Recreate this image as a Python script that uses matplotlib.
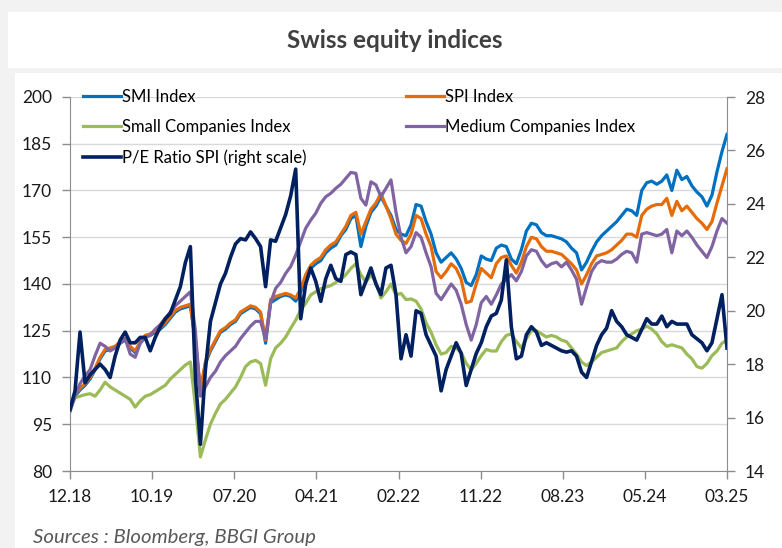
import matplotlib
matplotlib.use("Agg")
import matplotlib.pyplot as plt
from matplotlib.patches import Rectangle
import pandas as pd

# --- data (~17-day steps) ---
START, END = "2018-12-27", "2025-03-10"
TICK_LABELS = ["12.18", "10.19", "07.20", "04.21", "02.22", "11.22", "08.23", "05.24", "03.25"]

smi = [100, 104, 106, 107.5, 109.5, 112.5, 116, 118.5, 119, 119.5,
       121, 122, 119.5, 118, 121, 123, 123.5, 124.5, 125.5, 127,
       129, 131, 132, 132.5, 133, 121.5, 105, 114.5, 118.5, 121.5,
       124.5, 125.5, 127, 128, 130.5, 131.5, 132.5, 132, 130.5, 121,
       134, 135, 136, 136.5, 136, 134.5, 137.5, 142, 145, 146.5,
       147.5, 150, 151.5, 152.5, 155.5, 157.5, 161, 162, 152, 158.5,
       163, 165, 168, 165, 162, 157.5, 156, 155.5, 159, 165.5,
       165, 160, 156, 150, 147, 148.5, 150, 148, 145, 140.5,
       139.5, 143, 149, 148, 147.5, 151.5, 152.5, 152, 148, 146.5,
       151, 157, 159.5, 159, 156.5, 155.5, 155.5, 155, 154.5, 153.5,
       151.5, 150, 144.5, 147, 150.5, 153.5, 155.5, 157, 158.5, 160,
       162, 164, 163.5, 162, 170, 172.5, 173, 172, 173, 175,
       170, 176.5, 173.5, 174.5, 171.5, 169.5, 168, 165, 168.5, 176,
       182.5, 188]
spi = [100, 104.5, 106.5, 108, 110, 113, 116.5, 119, 119.5, 120,
       121.5, 122.5, 120, 118.5, 121.5, 123.5, 124, 125, 126, 127.5,
       129.5, 131.5, 132.5, 133, 133.5, 122, 106, 115, 119, 122,
       125, 126, 127.5, 128.5, 131, 132, 133, 132.5, 131, 122,
       135, 136, 136.5, 137, 136.5, 135.5, 138.5, 143, 146, 147.5,
       148.5, 151, 152.5, 153.5, 156, 158.5, 162, 163, 156, 160,
       164, 166, 169, 165, 161, 156, 154, 153, 156, 162,
       161, 156, 152, 144, 142, 144, 146.5, 145, 141.5, 134,
       134.5, 140, 145, 143.5, 142, 146.5, 148.5, 149, 146, 143.5,
       147, 152, 155, 154.5, 152, 150.5, 150.5, 150, 149.5, 148,
       146.5, 144.5, 140, 143, 146.5, 149, 149.5, 150, 151, 152.5,
       154, 156, 156, 155, 162, 164, 165, 165.5, 165.5, 167.5,
       162, 166.5, 163.5, 165, 163, 161, 159.5, 157.5, 160, 166,
       171.5, 177]
small = [100, 103.5, 104, 104.5, 104.8, 104, 106, 108.5, 107, 106,
         105, 104, 103, 100.5, 102.5, 104, 104.5, 105.5, 106.5, 107.5,
         109.5, 111, 112.5, 114, 115, 101, 84.5, 90, 95, 98.5,
         101.5, 103, 105, 107, 110, 113.5, 115, 115.5, 114.5, 107.5,
         116, 119.5, 121, 123, 125.8, 128.4, 131.7, 133.8, 136.5, 137.5,
         138.5, 139, 139.5, 140.5, 141.5, 143, 145, 146.5, 143, 140.5,
         143, 140.5, 135.5, 137.5, 140, 136.5, 137, 135, 135.2, 134.5,
         132, 127.5, 124.5, 120.5, 117.5, 118, 120, 119.5, 118, 114.5,
         112.5, 114.5, 117, 119, 118.5, 118.5, 121.5, 123.5, 124, 121.5,
         119.5, 122.5, 125, 125, 124, 123, 123.5, 123, 122, 121.5,
         119.5, 117.5, 115, 113.8, 115, 116.5, 118, 118.5, 119, 119.5,
         121.5, 123, 124, 125, 125.5, 126.5, 125.5, 124, 121.5, 120,
         120.5, 120, 119.5, 117.5, 116, 113.5, 113, 114.5, 117, 118.5,
         121, 122]
medium = [99, 104, 108, 110.5, 112.5, 117, 121, 120, 118.5, 119.5,
          121, 122.5, 117.5, 116.5, 121, 123, 123.5, 125.5, 127, 129,
          131, 133, 134.5, 136, 137.5, 125, 104, 107, 110, 112,
          115, 117, 118.5, 120, 122.5, 124.5, 126.5, 128, 128, 122.5,
          134, 138.6, 140.5, 143.4, 145.6, 149.3, 153.6, 157.9, 160.5, 162.7,
          165.9, 168, 169.1, 170.7, 172, 173.9, 175.8, 175.5, 167.5, 165.3,
          172.8, 171.8, 168, 170.7, 173.4, 163, 155, 150, 152, 156.5,
          155, 150, 145.5, 137, 135, 137.5, 140, 138, 133.5, 127,
          122, 127, 134, 136, 133.5, 136.5, 140, 141.5, 143, 141,
          144, 149, 151, 150.5, 147.5, 145.5, 146.5, 147, 145.5, 147,
          144.5, 141.5, 133.5, 139, 144, 146.5, 147.5, 147, 147, 148,
          149.5, 150.5, 150, 147, 156, 156.5, 156, 155.5, 156, 157.5,
          150, 157, 155.5, 157, 155, 152.5, 150.5, 148.5, 152, 157,
          161, 159.5]
pe_spi = [16.3, 17.0, 19.2, 17.3, 17.6, 17.8, 18.0, 17.8, 17.5, 18.3,
          18.9, 19.2, 18.8, 18.8, 19.0, 19.0, 18.5, 19.0, 19.4, 19.7,
          19.9, 20.4, 20.9, 21.8, 22.4, 17.5, 15.0, 17.8, 19.6, 20.3,
          21.0, 21.4, 22.0, 22.5, 22.7, 22.65, 22.95, 22.7, 22.4, 20.9,
          22.65, 22.6, 23.1, 23.6, 24.3, 25.3, 19.7, 21.0, 21.6, 21.1,
          20.35, 21.2, 21.7, 21.2, 21.1, 22.1, 22.2, 22.1, 20.6, 21.1,
          21.6, 21.0, 20.6, 21.6, 21.7, 20.6, 18.2, 19.1, 18.3, 20.0,
          19.9, 19.1, 18.7, 18.3, 17.0, 17.8, 18.3, 18.8, 18.4, 17.2,
          17.8, 18.4, 18.8, 19.4, 19.8, 19.9, 20.4, 21.9, 19.4, 18.2,
          18.3, 19.1, 19.4, 19.2, 18.7, 18.8, 18.7, 18.6, 18.5, 18.45,
          18.5, 18.3, 17.7, 17.5, 18.1, 18.7, 19.1, 19.35, 20.0, 19.6,
          19.4, 19.1, 19.0, 18.9, 19.3, 19.7, 19.5, 19.5, 19.8, 19.4,
          19.6, 19.5, 19.5, 19.5, 19.1, 18.95, 18.8, 18.5, 18.8, 19.7,
          20.6, 18.6]

dates = pd.date_range(START, END, periods=len(spi))
tick_dates = pd.date_range(START, END, periods=len(TICK_LABELS))

FONT = "Lato"
W, H = 782, 548
plt.rcParams["font.family"] = [FONT, "DejaVu Sans"]

fig = plt.figure(figsize=(W / 100, H / 100), dpi=100, facecolor="#f2f2f2")
# white cards behind the title and the chart
fig.patches.append(Rectangle((8 / W, 1 - 68 / H), 1, 56 / H, transform=fig.transFigure,
                             facecolor="white", edgecolor="none", zorder=-10))
fig.patches.append(Rectangle((15 / W, 0), 1, 1 - 73 / H, transform=fig.transFigure,
                             facecolor="white", edgecolor="none", zorder=-10))

ax = fig.add_axes([70 / W, 1 - 471 / H, 657 / W, 374 / H])
ax.set_facecolor("none")
ax2 = ax.twinx()

ax.plot(dates, smi, color="#0070c0", lw=2.3, label="SMI Index")
ax.plot(dates, spi, color="#e46c0a", lw=2.3, label="SPI Index")
ax.plot(dates, small, color="#9bbb59", lw=2.3, label="Small Companies Index")
ax.plot(dates, medium, color="#8064a2", lw=2.3, label="Medium Companies Index")
ax2.plot(dates, pe_spi, color="#002060", lw=2.6, label="P/E Ratio SPI (right scale)")

ax.set_xlim(dates[0], dates[-1])
ax.set_ylim(80, 200)
ax.set_yticks(range(80, 201, 15))
ax2.set_ylim(14, 28)
ax2.set_yticks(range(14, 29, 2))
ax.set_xticks(tick_dates)
ax.set_xticklabels(TICK_LABELS)

ax.grid(axis="y", color="#d9d9d9", lw=1)
ax.set_axisbelow(True)
for a in (ax, ax2):
    a.spines["top"].set_visible(False)
    for s in ("left", "right", "bottom"):
        a.spines[s].set_color("#8c8c8c")
ax.spines["right"].set_visible(False)
ax2.spines["left"].set_visible(False)
ax2.spines["bottom"].set_visible(False)
ax.tick_params(axis="both", colors="#8c8c8c", labelcolor="#1a1a1a", labelsize=12.5,
               length=6, width=1, pad=7)
ax2.tick_params(axis="y", colors="#8c8c8c", labelcolor="#1a1a1a", labelsize=12.5,
                length=6, width=1, pad=7)

# legend: two columns like the Excel original
h = {l.get_label(): l for l in ax.get_lines() + ax2.get_lines()}
col1 = ["SMI Index", "Small Companies Index", "P/E Ratio SPI (right scale)"]
col2 = ["SPI Index", "Medium Companies Index"]
kw = dict(frameon=False, fontsize=12, handlelength=2.3, handletextpad=0.05,
          labelspacing=0.86, borderpad=0, borderaxespad=0, loc="upper left",
          bbox_transform=fig.transFigure)
leg1 = ax2.legend([h[k] for k in col1], col1, bbox_to_anchor=(83 / W, 1 - 89 / H), **kw)
ax2.add_artist(leg1)
ax2.legend([h[k] for k in col2], col2, bbox_to_anchor=(406 / W, 1 - 89 / H), **kw)

fig.text(395 / W, 1 - 40 / H, "Swiss equity indices", ha="center", va="center",
         fontsize=17.5, fontweight="bold", color="#404040")
fig.text(33 / W, 1 - 537 / H, "Sources : Bloomberg, BBGI Group", ha="left", va="center",
         fontsize=14.7, style="italic", color="#595959")

fig.savefig("out.png", dpi=100, facecolor=fig.get_facecolor())
